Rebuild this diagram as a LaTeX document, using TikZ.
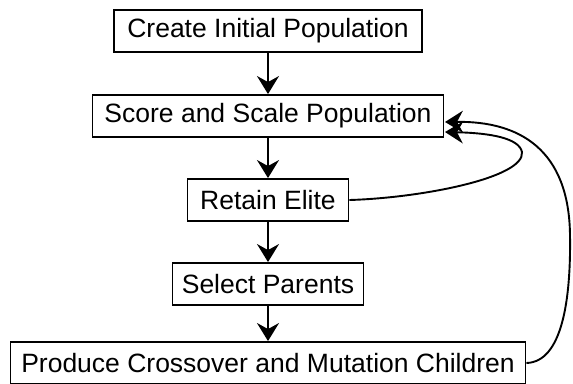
\documentclass[tikz,border=0pt]{standalone}
\usepackage{fontspec}
\setmainfont{Liberation Sans}
\usetikzlibrary{arrows.meta}
\begin{document}
\begin{tikzpicture}[x=1pt,y=-1pt,
  box/.style={draw=black, line width=1.9pt, minimum height=42pt, inner sep=0pt, font=\fontsize{26.5}{30}\selectfont, anchor=center},
  arr/.style={line width=1.9pt, -{Stealth[length=18pt,width=22pt,inset=6pt]}}]
\useasboundingbox (0,0) rectangle (573,383);
\node[box, minimum width=308pt] (c) at (268,31) {Create Initial Population};
\node[box, minimum width=351pt] (s) at (268,116) {Score and Scale Population};
\node[box, minimum width=161pt] (r) at (268,200) {Retain Elite};
\node[box, minimum width=191pt] (p) at (268,284) {Select Parents};
\node[box, minimum width=515pt] (m) at (268,363) {Produce Crossover and Mutation Children};
\draw[arr] (c.south) -- (s.north);
\draw[arr] (s.south) -- (r.north);
\draw[arr] (r.south) -- (p.north);
\draw[arr] (p.south) -- (m.north);
\coordinate (e1) at (445,132);
\coordinate (e2) at (445,122);
\draw[arr] (r.east) .. controls (420,198) and (525,178) .. (522,152) .. controls (519,138) and (490,133) .. (e1);
\draw[arr] (m.east) .. controls (562,362) and (571,300) .. (570,235) .. controls (569,150) and (520,121) .. (e2);
\end{tikzpicture}
\end{document}
